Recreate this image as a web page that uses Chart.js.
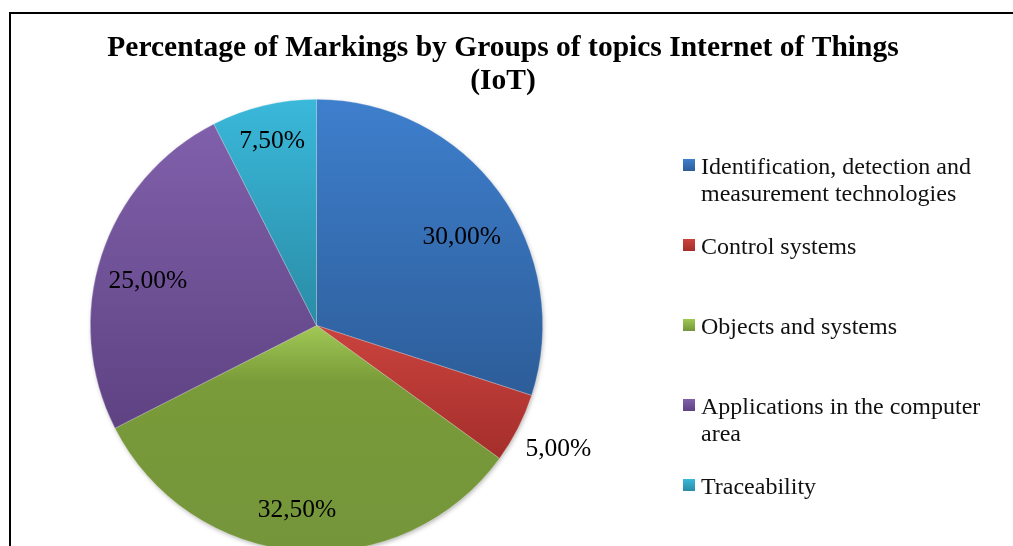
<!DOCTYPE html>
<html>
  <head>
    <meta charset="utf-8">
    <title>IoT markings</title>
    <script src="https://cdn.jsdelivr.net/npm/chart.js@4/dist/chart.umd.min.js"></script>
    <style>
      html, body { margin: 0; padding: 0; background: #fff; overflow: hidden; }
      #wrap { position: relative; width: 1013px; height: 600px; }
      #frame { position: absolute; left: 9px; top: 12px; width: 1100px; height: 700px; border-left: 2px solid #000; border-top: 2px solid #000; }
      #chart1 { position: absolute; left: 0; top: 0; }
    </style>
  </head>
  <body>
    <div id="wrap">
      <div id="frame"></div>
      <canvas id="chart1" width="1013" height="600"></canvas>
    </div>
    <script>
      var titleLines = ['Percentage of Markings by Groups of topics Internet of Things', '(IoT)'];
      var categories = ['Identification, detection and measurement technologies', 'Control systems', 'Objects and systems', 'Applications in the computer area', 'Traceability'];
      var shares = [30.0, 5.0, 32.5, 25.0, 7.5];
      var valueLabels = ['30,00%', '5,00%', '32,50%', '25,00%', '7,50%'];

      // light (top of slice) / dark (bottom of slice)
      var lightColors = ['#3e7fcd', '#ca433e', '#a0c856', '#8060ab', '#3ab8da'];
      var darkColors  = ['#2d5d99', '#a42e2b', '#74953a', '#5e4282', '#2a8ca6'];
      // label placement: fraction of radius along mid angle, then a small nudge
      var labelRadius = [0.75, 1.2, 0.82, 0.77, 0.84];
      var labelNudgeX = [8, 0, -5, -3, 0];
      var labelNudgeY = [12, 1, 0, 10, 1];

      var serif = '"Liberation Serif", "Times New Roman", serif';

      function sliceFill(c) {
        var chart = c.chart, area = chart.chartArea;
        var i = c.dataIndex;
        if (!area) return lightColors[i];
        var cx = (area.left + area.right) / 2, cy = (area.top + area.bottom) / 2;
        var r = Math.min(area.right - area.left, area.bottom - area.top) / 2;
        var total = 0, before = 0;
        for (var k = 0; k < shares.length; k++) { total += shares[k]; if (k < i) before += shares[k]; }
        var a0 = -Math.PI / 2 + 2 * Math.PI * before / total;
        var a1 = a0 + 2 * Math.PI * shares[i] / total;
        var ys = [cy, cy + r * Math.sin(a0), cy + r * Math.sin(a1)];
        [Math.PI / 2, 3 * Math.PI / 2].forEach(function(a){ if (a > a0 && a < a1) ys.push(cy + r * Math.sin(a)); });
        var y0 = Math.min.apply(null, ys), y1 = Math.max.apply(null, ys);
        var g = chart.ctx.createLinearGradient(0, y0, 0, y1);
        g.addColorStop(0, lightColors[i]);
        if (i === 2) g.addColorStop(0.25, '#7a9b39');
        g.addColorStop(1, darkColors[i]);
        return g;
      }

      var decoPlugin = {
        id: 'deco',
        beforeDatasetsDraw: function(chart) {
          var arc = chart.getDatasetMeta(0).data[0];
          if (!arc) return;
          var p = arc.getProps(['x', 'y', 'outerRadius'], true);
          var ctx = chart.ctx;
          ctx.save();
          ctx.shadowColor = 'rgba(0,0,0,0.35)';
          ctx.shadowBlur = 5;
          ctx.shadowOffsetX = 1;
          ctx.shadowOffsetY = 2;
          ctx.fillStyle = '#888';
          ctx.beginPath();
          ctx.arc(p.x, p.y, p.outerRadius - 1, 0, Math.PI * 2);
          ctx.fill();
          ctx.restore();
        },
        afterDraw: function(chart) {
          var ctx = chart.ctx;
          ctx.save();
          // title
          ctx.fillStyle = '#000';
          ctx.textAlign = 'center';
          ctx.textBaseline = 'alphabetic';
          ctx.font = 'bold 29.5px ' + serif;
          ctx.fillText(titleLines[0], 503, 56);
          ctx.fillText(titleLines[1], 503, 89);

          // value labels
          ctx.font = '25.5px ' + serif;
          ctx.textBaseline = 'middle';
          chart.getDatasetMeta(0).data.forEach(function(arc, i) {
            var p = arc.getProps(['x', 'y', 'startAngle', 'endAngle', 'outerRadius'], true);
            var mid = (p.startAngle + p.endAngle) / 2;
            var d = p.outerRadius * labelRadius[i];
            ctx.fillText(valueLabels[i], p.x + Math.cos(mid) * d + labelNudgeX[i], p.y + Math.sin(mid) * d + labelNudgeY[i]);
          });

          // legend
          ctx.textAlign = 'left';
          ctx.textBaseline = 'alphabetic';
          ctx.font = '24px ' + serif;
          categories.forEach(function(name, i) {
            var base = 174 + 80 * i;
            var g = ctx.createLinearGradient(0, base - 15, 0, base - 3);
            g.addColorStop(0, lightColors[i]);
            g.addColorStop(1, darkColors[i]);
            ctx.fillStyle = g;
            ctx.fillRect(683, base - 15, 12, 12);
            ctx.fillStyle = '#111';
            var words = name.split(' '), line = '', lines = [];
            words.forEach(function(w) {
              var t = line ? line + ' ' + w : w;
              if (ctx.measureText(t).width > 296 && line) { lines.push(line); line = w; } else { line = t; }
            });
            lines.push(line);
            lines.forEach(function(l, j) { ctx.fillText(l, 701, base + j * 27); });
          });
          ctx.restore();
        }
      };

      new Chart(document.getElementById('chart1').getContext('2d'), {
        type: 'pie',
        data: {
          labels: categories,
          datasets: [{
            data: shares,
            backgroundColor: sliceFill,
            borderColor: 'rgba(255,255,255,0.45)',
            borderWidth: 0.6
          }]
        },
        options: {
          responsive: false,
          animation: false,
          layout: { padding: { left: 90, right: 470, top: 99, bottom: 48 } },
          plugins: {
            legend: { display: false },
            title: { display: false },
            tooltip: { enabled: false }
          }
        },
        plugins: [decoPlugin]
      });
    </script>
  </body>
</html>
